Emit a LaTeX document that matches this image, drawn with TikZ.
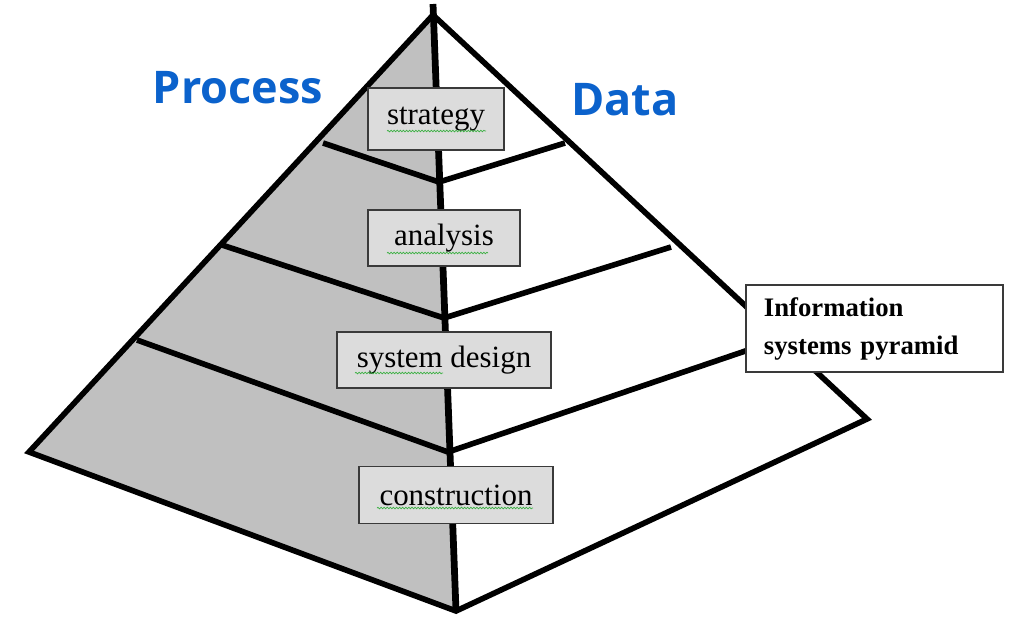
\documentclass[tikz,border=0pt]{standalone}
\usepackage{fontspec}
\setmainfont{Liberation Serif}
\newfontfamily\headfont{Open Sans}
\usetikzlibrary{decorations.pathmorphing}
\definecolor{ink}{HTML}{000000}
\definecolor{face}{HTML}{C0C0C0}
\definecolor{chip}{HTML}{DCDCDC}
\definecolor{chipline}{HTML}{3A3A3A}
\definecolor{title}{HTML}{0B62CC}
\definecolor{spell}{HTML}{3CB043}
\tikzset{
  edge/.style   = {draw=ink, line width=4pt, line join=miter},
  spine/.style  = {draw=ink, line width=4.8pt},
  level/.style  = {draw=ink, line width=4pt, line join=round},
  stage/.style  = {draw=chipline, fill=chip, line width=0.8pt, inner sep=0pt,
                   font=\fontsize{22}{26}\selectfont},
  legend/.style = {draw=chipline, fill=white, line width=0.8pt, inner xsep=0.45cm,
                   text width=5.525cm, align=left, minimum height=2.175cm,
                   font=\fontsize{19}{27}\selectfont\bfseries},
  head/.style   = {font=\headfont\bfseries\fontsize{32}{36}\selectfont, text=title},
  squig/.style  = {draw=spell, line width=0.5pt,
                   decorate, decoration={snake, amplitude=0.55pt, segment length=2.2pt}},
}
\begin{document}
\begin{tikzpicture}[x=0.025cm,y=-0.025cm]
\useasboundingbox (0,0) rectangle (1016,627);

% ------------------------------------------------------------------ corners
\coordinate (apex) at (433,15);
\coordinate (top)  at (433,4);
\coordinate (lc)   at (29,452);
\coordinate (bot)  at (456,611);
\coordinate (rc)   at (867,419);

% ------------------------------------------------------------------ levels
\coordinate (l1w) at (323,143); \coordinate (l1c) at (439,182); \coordinate (l1e) at (565,143);
\coordinate (l2w) at (222,245); \coordinate (l2c) at (444,318); \coordinate (l2e) at (671,247);
\coordinate (l3w) at (137,340); \coordinate (l3c) at (448,452); \coordinate (l3e) at (760,346);

\fill[face] (apex) -- (lc) -- (bot) -- cycle;
\foreach \k in {1,2,3}{\draw[level] (l\k w) -- (l\k c) -- (l\k e);}
\draw[edge] (apex) -- (lc) -- (bot) -- (rc) -- cycle;
\draw[spine] (top) -- (bot);

% ------------------------------------------------------------------ stages
\node[stage, minimum width=3.4cm,  minimum height=1.55cm]  (strat) at (436,119) {strategy};
\node[stage, minimum width=3.8cm,  minimum height=1.4cm]   (anal)  at (444,238) {analysis};
\node[stage, minimum width=5.35cm, minimum height=1.4cm]   (sysd)  at (444,360) {system design};
\node[stage, minimum width=4.85cm, minimum height=1.425cm] (cons)  at (456,495) {construction};

\draw[squig] (387,131) -- (486,131);
\draw[squig] (387,253) -- (488,253);
\draw[squig] (355,373) -- (443,373);
\draw[squig] (377,508) -- (533,508);

\node[legend] (info) at (874.5,328.5) {Information\\systems pyramid};

% ------------------------------------------------------------------ titles
\node[head] (proc) at (238,88)  {Process};
\node[head] (data) at (625,100) {Data};

\end{tikzpicture}
\end{document}
